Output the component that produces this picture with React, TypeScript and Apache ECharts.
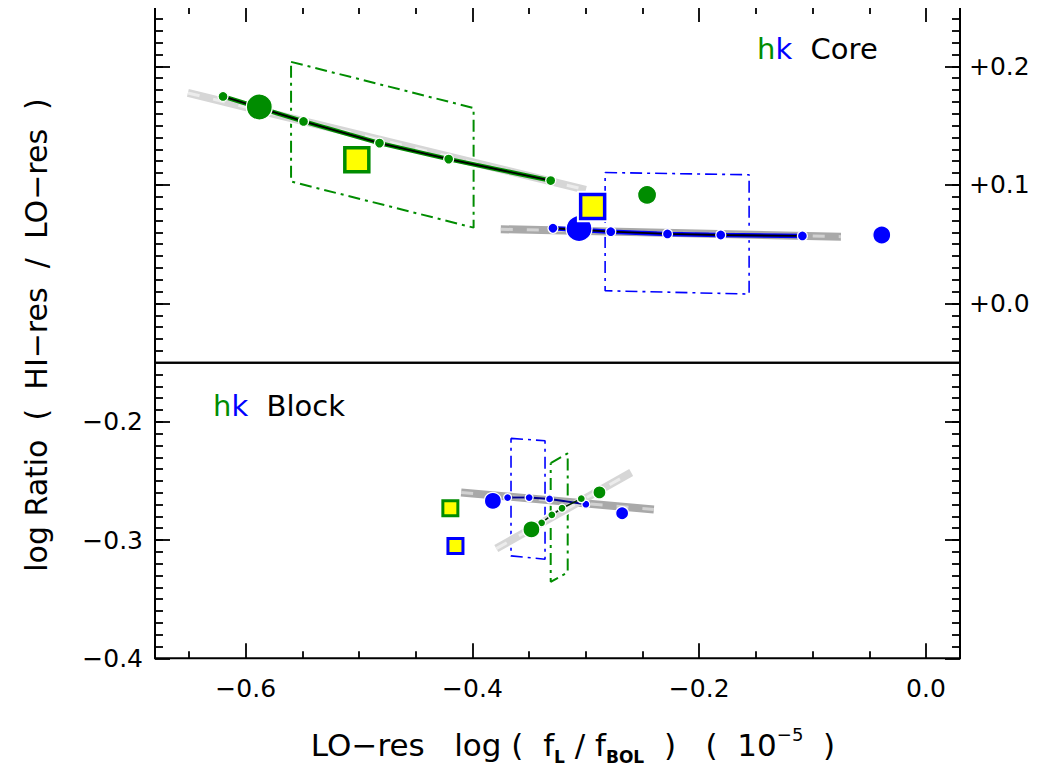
import React, { useEffect, useRef } from "react";
import * as echarts from "echarts";

// ---------- axis ranges & ticks ----------
const X_MIN = -0.68;
const X_MAX = 0.03;
const TOP_MIN = -0.05;
const TOP_MAX = 0.25;
const BOT_MIN = -0.4;
const BOT_MAX = -0.15;

const xMajorTicks = [-0.6, -0.4, -0.2, 0.0];
const xTickLabels = ["\u22120.6", "\u22120.4", "\u22120.2", "0.0"];
const xMinorTicks = [-0.65, -0.55, -0.5, -0.45, -0.35, -0.3, -0.25, -0.15, -0.1, -0.05];

const topMajorTicks = [0.0, 0.1, 0.2];
const topTickLabels = ["+0.0", "+0.1", "+0.2"];
const botMajorTicks = [-0.4, -0.3, -0.2];
const botTickLabels = ["\u22120.4", "\u22120.3", "\u22120.2"];

function stepTicks(a: number, b: number, step: number): number[] {
  const out: number[] = [];
  const n = Math.round((b - a) / step);
  for (let i = 0; i <= n; i++) out.push(Math.round((a + i * step) * 1000) / 1000);
  return out;
}
const topMinorTicks = stepTicks(-0.04, 0.24, 0.01);
const botMinorTicks = stepTicks(-0.39, -0.16, 0.01);

// ---------- data: Core (top panel) ----------
const coreGreenLine = [
  [-0.62, 0.1746],
  [-0.549, 0.1535],
  [-0.482, 0.1352],
  [-0.421, 0.1217],
  [-0.331, 0.1036],
];
const coreGreenBig = [-0.588, 0.1657];
const coreGreenAlt = [-0.246, 0.0915];
const coreGreenSquare = [-0.502, 0.1211];
const coreGreenBand = [
  [-0.651, 0.1775],
  [-0.3, 0.0958],
];
const coreGreenBox = [
  [-0.56, 0.2037],
  [-0.399, 0.1648],
  [-0.399, 0.0639],
  [-0.56, 0.1028],
  [-0.56, 0.2037],
];

const coreBlueLine = [
  [-0.329, 0.0634],
  [-0.278, 0.0605],
  [-0.228, 0.0586],
  [-0.181, 0.0577],
  [-0.109, 0.0569],
];
const coreBlueBig = [-0.306, 0.0631];
const coreBlueAlt = [-0.039, 0.0577];
const coreBlueSquare = [-0.294, 0.0817];
const coreBlueBand = [
  [-0.375, 0.0626],
  [-0.075, 0.0563],
];
const coreBlueBox = [
  [-0.283, 0.1104],
  [-0.156, 0.1085],
  [-0.156, 0.0079],
  [-0.283, 0.0107],
  [-0.283, 0.1104],
];

// ---------- data: Block (bottom panel) ----------
const blockBlueLine = [
  [-0.369, -0.2641],
  [-0.35, -0.2641],
  [-0.332, -0.2652],
  [-0.3, -0.2697],
];
const blockBlueBig = [-0.382, -0.2669];
const blockBlueAlt = [-0.268, -0.2773];
const blockBlueSquare = [-0.415, -0.305];
const blockBlueBand = [
  [-0.41, -0.2597],
  [-0.24, -0.2742],
];
const blockBlueBox = [
  [-0.366, -0.214],
  [-0.336, -0.216],
  [-0.336, -0.3162],
  [-0.366, -0.3134],
  [-0.366, -0.214],
];

const blockGreenLine = [
  [-0.339, -0.2854],
  [-0.33, -0.2787],
  [-0.321, -0.2731],
  [-0.304, -0.265],
];
const blockGreenBig = [-0.348, -0.291];
const blockGreenAlt = [-0.288, -0.2597];
const blockGreenSquare = [-0.4195, -0.2731];
const blockGreenBand = [
  [-0.379, -0.3072],
  [-0.26, -0.2429],
];
const blockGreenBox = [
  [-0.331, -0.235],
  [-0.316, -0.2266],
  [-0.316, -0.3274],
  [-0.331, -0.3353],
  [-0.331, -0.235],
];

// ---------- styles ----------
const GREEN = "#008c00";
const BLUE = "#0000ff";
const FONT = "DejaVu Sans";
const DASHDOT = [12, 5, 3, 5];

function lookup(v: number, ticks: number[], labels: string[]) {
  const i = ticks.findIndex((t) => Math.abs(t - v) < 1e-6);
  return i >= 0 ? labels[i] : "";
}

function xAxis(grid: number, position: string, ticks: number[], len: number, withLabels: boolean) {
  return {
    type: "value",
    gridIndex: grid,
    position,
    min: X_MIN,
    max: X_MAX,
    axisLine: { show: false, onZero: false },
    splitLine: { show: false },
    axisTick: { show: true, inside: true, length: len, customValues: ticks, lineStyle: { color: "#000", width: 1.8 } },
    axisLabel: withLabels
      ? {
          show: true,
          customValues: xMajorTicks,
          formatter: (v: number) => lookup(v, xMajorTicks, xTickLabels),
          fontFamily: FONT,
          fontSize: 25,
          color: "#000",
          margin: 18,
        }
      : { show: false },
  };
}

function yAxis(
  grid: number,
  position: string,
  min: number,
  max: number,
  ticks: number[],
  len: number,
  labels: string[] | null,
  labelTicks: number[] | null
) {
  return {
    type: "value",
    gridIndex: grid,
    position,
    min,
    max,
    axisLine: { show: false, onZero: false },
    splitLine: { show: false },
    axisTick: { show: true, inside: true, length: len, customValues: ticks, lineStyle: { color: "#000", width: 1.8 } },
    axisLabel:
      labels && labelTicks
        ? {
            show: true,
            customValues: labelTicks,
            formatter: (v: number) => lookup(v, labelTicks, labels),
            fontFamily: FONT,
            fontSize: 25,
            color: "#000",
            margin: position === "right" ? 9 : 12,
          }
        : { show: false },
  };
}

function outline(data: number[][], xi: number, yi: number, color: string, width: number, type: any, z: number) {
  return {
    type: "line",
    data,
    xAxisIndex: xi,
    yAxisIndex: yi,
    symbol: "none",
    silent: true,
    lineStyle: { color, width, type, cap: "butt" },
    z,
  };
}

function dots(data: number[][], xi: number, yi: number, color: string, size: number, z: number) {
  return {
    type: "scatter",
    data,
    xAxisIndex: xi,
    yAxisIndex: yi,
    symbol: "circle",
    symbolSize: size,
    silent: true,
    itemStyle: { color, borderColor: "#fff", borderWidth: 1.3, opacity: 1 },
    z,
  };
}

function square(pt: number[], xi: number, yi: number, color: string, size: number, bw: number, z: number) {
  return [
    {
      type: "scatter",
      data: [pt],
      xAxisIndex: xi,
      yAxisIndex: yi,
      symbol: "rect",
      symbolSize: size + bw + 4,
      silent: true,
      itemStyle: { color: "#fff", opacity: 1 },
      z,
    },
    {
      type: "scatter",
      data: [pt],
      xAxisIndex: xi,
      yAxisIndex: yi,
      symbol: "rect",
      symbolSize: size,
      silent: true,
      itemStyle: { color: "#ffff00", borderColor: color, borderWidth: bw, opacity: 1 },
      z: z + 1,
    },
  ];
}

function band(data: number[][], xi: number, yi: number, base: string, light: string, z: number) {
  return [
    outline(data, xi, yi, "#ffffff", 11, "solid", z),
    outline(data, xi, yi, base, 8, "solid", z + 0.1),
    outline(data, xi, yi, light, 3, [12, 14], z + 0.2),
  ];
}

export default function App() {
  const ref = useRef<HTMLDivElement>(null);
  useEffect(() => {
    if (!ref.current) return;
    const chart = echarts.init(ref.current, null, { renderer: "svg" });
    const T = [0, 0]; // x, y axis index for top grid
    const B = [2, 4]; // x, y axis index for bottom grid
    const series: any[] = [
      // boxes
      outline(coreGreenBox, T[0], T[1], GREEN, 2, DASHDOT, 2),
      outline(coreBlueBox, T[0], T[1], BLUE, 1.6, DASHDOT, 2),
      outline(blockBlueBox, B[0], B[1], BLUE, 1.6, DASHDOT, 2),
      outline(blockGreenBox, B[0], B[1], GREEN, 2, DASHDOT, 2),
      // bands
      ...band(coreGreenBand, T[0], T[1], "#d6d6d6", "#ececec", 3),
      ...band(coreBlueBand, T[0], T[1], "#a9a9a9", "#d2d2d2", 3),
      ...band(blockBlueBand, B[0], B[1], "#a9a9a9", "#d2d2d2", 3),
      ...band(blockGreenBand, B[0], B[1], "#d6d6d6", "#ececec", 3),
      // colored lines
      outline(coreGreenLine, T[0], T[1], GREEN, 4.5, "solid", 4),
      outline(coreGreenLine, T[0], T[1], "#000", 1.8, "solid", 4.1),
      outline(coreBlueLine, T[0], T[1], BLUE, 4.5, "solid", 4),
      outline(coreBlueLine, T[0], T[1], "#000", 1.8, "solid", 4.1),
      outline(blockBlueLine, B[0], B[1], "#00008b", 2, "solid", 4),
      outline(blockGreenLine, B[0], B[1], "#002a00", 1.5, "solid", 4),
      // small dots
      dots(coreGreenLine, T[0], T[1], GREEN, 10, 5),
      dots(coreBlueLine, T[0], T[1], BLUE, 10, 5),
      dots(blockBlueLine, B[0], B[1], BLUE, 8, 5),
      dots(blockGreenLine, B[0], B[1], GREEN, 8, 5),
      // big / alt circles
      dots([coreGreenBig], T[0], T[1], GREEN, 26, 6),
      dots([coreBlueBig], T[0], T[1], BLUE, 26, 6),
      dots([coreGreenAlt], T[0], T[1], GREEN, 19, 6),
      dots([coreBlueAlt], T[0], T[1], BLUE, 18, 6),
      dots([blockBlueBig], B[0], B[1], BLUE, 17, 6),
      dots([blockGreenBig], B[0], B[1], GREEN, 17, 6),
      dots([blockGreenAlt], B[0], B[1], GREEN, 13, 6),
      dots([blockBlueAlt], B[0], B[1], BLUE, 13, 6),
      // squares
      ...square(coreGreenSquare, T[0], T[1], GREEN, 24, 3.5, 7),
      ...square(coreBlueSquare, T[0], T[1], BLUE, 24, 3.5, 7),
      ...square(blockGreenSquare, B[0], B[1], GREEN, 15, 3, 7),
      ...square(blockBlueSquare, B[0], B[1], BLUE, 15, 3, 7),
    ];

    const label = (x: number, y: number, word: string) => ({
      type: "text",
      x,
      y,
      style: {
        text: "{h|h}{k|k}{t|  " + word + "}",
        align: "left",
        verticalAlign: "middle",
        rich: {
          h: { fontFamily: FONT, fontSize: 29, fill: GREEN },
          k: { fontFamily: FONT, fontSize: 29, fill: BLUE },
          t: { fontFamily: FONT, fontSize: 29, fill: "#000" },
        },
      },
    });

    const option: any = {
      animation: false,
      backgroundColor: "#fff",
      grid: [
        { left: 155, top: 7, width: 805, height: 355.7, show: true, borderColor: "#000", borderWidth: 2, backgroundColor: "transparent" },
        { left: 155, top: 362.7, width: 805, height: 295.6, show: true, borderColor: "#000", borderWidth: 2, backgroundColor: "transparent" },
      ],
      xAxis: [
        xAxis(0, "top", xMajorTicks, 15, false),
        xAxis(0, "top", xMinorTicks, 7, false),
        xAxis(1, "bottom", xMajorTicks, 15, true),
        xAxis(1, "bottom", xMinorTicks, 7, false),
      ],
      yAxis: [
        yAxis(0, "left", TOP_MIN, TOP_MAX, topMajorTicks, 15, null, null),
        yAxis(0, "left", TOP_MIN, TOP_MAX, topMinorTicks, 8, null, null),
        yAxis(0, "right", TOP_MIN, TOP_MAX, topMajorTicks, 15, topTickLabels, topMajorTicks),
        yAxis(0, "right", TOP_MIN, TOP_MAX, topMinorTicks, 8, null, null),
        yAxis(1, "left", BOT_MIN, BOT_MAX, botMajorTicks, 15, botTickLabels, botMajorTicks),
        yAxis(1, "left", BOT_MIN, BOT_MAX, botMinorTicks, 8, null, null),
        yAxis(1, "right", BOT_MIN, BOT_MAX, botMajorTicks, 15, null, null),
        yAxis(1, "right", BOT_MIN, BOT_MAX, botMinorTicks, 8, null, null),
      ],
      series,
      graphic: [
        {
          type: "text",
          x: 36,
          y: 335,
          rotation: Math.PI / 2,
          style: {
            text: "log Ratio  (  HI\u2212res  /  LO\u2212res  )",
            fontFamily: FONT,
            fontSize: 30,
            fill: "#000",
            align: "center",
            verticalAlign: "middle",
          },
        },
        {
          type: "text",
          x: 573,
          y: 745,
          style: {
            text: "{n|LO\u2212res   log (  f}{sub|L}{n| / f}{sub|BOL}{n|  )   (  10}{sup|\u22125}{n|  )}",
            align: "center",
            verticalAlign: "middle",
            rich: {
              n: { fontFamily: FONT, fontSize: 31, fill: "#000", lineHeight: 40 },
              sub: { fontFamily: FONT, fontSize: 17, fontWeight: "bold", fill: "#000", verticalAlign: "bottom" },
              sup: { fontFamily: FONT, fontSize: 18, fill: "#000", verticalAlign: "top" },
            },
          },
        },
        label(757, 49, "Core"),
        label(213, 406, "Block"),
      ],
    };
    chart.setOption(option);
    return () => chart.dispose();
  }, []);
  return <div ref={ref} style={{ width: 1042, height: 775, margin: -8 }} />;
}
